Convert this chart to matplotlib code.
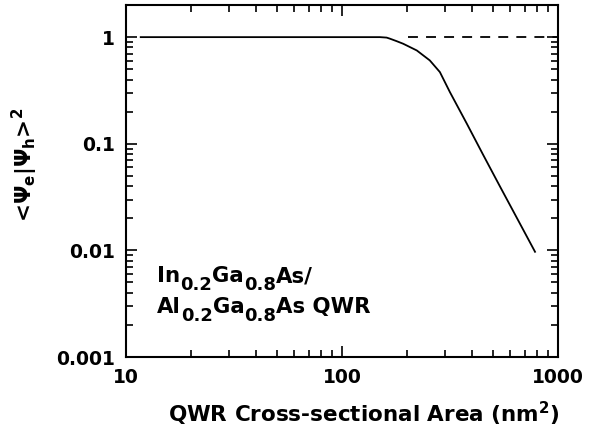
#!/usr/bin/env python

import numpy as np
import matplotlib.pyplot as plt
from matplotlib.transforms import offset_copy
from matplotlib.ticker import LogLocator, NullFormatter, FixedLocator, FixedFormatter

plt.rcParams['font.family'] = ['DejaVu Sans']
plt.rcParams['font.weight'] = 'bold'
plt.rcParams['axes.labelweight'] = 'bold'
plt.rcParams['mathtext.fontset'] = 'custom'
plt.rcParams['mathtext.rm'] = 'DejaVu Sans:bold'
plt.rcParams['mathtext.it'] = 'DejaVu Sans:bold'
plt.rcParams['mathtext.bf'] = 'DejaVu Sans:bold'

# overlap integral vs QWR cross-sectional area
area = [11.7, 50, 100, 150, 161, 167, 179, 192, 222, 255, 284, 316, 378, 450, 538, 650, 783]
overlap = [1.0, 1.0, 1.0, 1.0, 0.99, 0.966, 0.917, 0.867, 0.75, 0.605, 0.47, 0.305, 0.155, 0.079, 0.040, 0.0196, 0.0097]

# dashed reference line at unity
ref_area = [202, 1000]
ref_overlap = [1.0, 1.0]

ytick_vals = [0.001, 0.01, 0.1, 1]
ytick_labels = ['0.001', '0.01', '0.1', '1']
xtick_vals = [10, 100, 1000]
xtick_labels = ['10', '100', '1000']

# label pieces: (text, is_subscript)
line1 = [('In', False), ('0.2', True), ('Ga', False), ('0.8', True), ('As/', False)]
line2 = [('Al', False), ('0.2', True), ('Ga', False), ('0.8', True), ('As QWR', False)]


def write_formula(fig, ax, x, y, pieces, size=15.3, subsize=13, drop=8):
    # place pieces one after the other so subscripts can be bigger than mathtext allows
    renderer = fig.canvas.get_renderer()
    dx = 0.0
    for txt, sub in pieces:
        tr = offset_copy(ax.transAxes, fig=fig, x=dx, y=-drop if sub else 0, units='dots')
        t = ax.text(x, y, txt, transform=tr, fontsize=subsize if sub else size,
                    va='baseline', ha='left', fontweight='bold')
        dx += t.get_window_extent(renderer).width


def main():
    fig = plt.figure(figsize=(5.96, 4.34), dpi=100)
    ax = fig.add_axes([0.2114, 0.1774, 0.7248, 0.811])

    ax.plot(area, overlap, color='black', lw=1.3)
    ax.plot(ref_area, ref_overlap, color='black', lw=1.3, dashes=(5.5, 4.5))

    ax.set_xscale('log')
    ax.set_yscale('log')
    ax.set_xlim(10, 1000)
    ax.set_ylim(0.001, 2)

    ax.xaxis.set_major_locator(FixedLocator(xtick_vals))
    ax.xaxis.set_major_formatter(FixedFormatter(xtick_labels))
    ax.yaxis.set_major_locator(FixedLocator(ytick_vals))
    ax.yaxis.set_major_formatter(FixedFormatter(ytick_labels))
    ax.xaxis.set_minor_locator(LogLocator(base=10, subs=np.arange(2, 10)))
    ax.yaxis.set_minor_locator(LogLocator(base=10, subs=np.arange(2, 10)))
    ax.xaxis.set_minor_formatter(NullFormatter())
    ax.yaxis.set_minor_formatter(NullFormatter())

    ax.tick_params(which='both', direction='in', top=True, right=True, width=1.2)
    ax.tick_params(which='major', length=8, labelsize=13.5, pad=8)
    ax.tick_params(which='minor', length=5)
    for s in ax.spines.values():
        s.set_linewidth(1.5)

    ax.set_xlabel('QWR Cross-sectional Area (nm$^2$)', fontsize=15.5)
    ax.xaxis.set_label_coords(0.551, -0.122)
    ax.set_ylabel(r'<$\Psi_e$|$\Psi_h$>$^2$', fontsize=15.5)
    ax.yaxis.set_label_coords(-0.198, 0.545)

    write_formula(fig, ax, 0.072, 0.213, line1)
    write_formula(fig, ax, 0.072, 0.125, line2)

    plt.savefig('out.png', dpi=100)


if __name__ == "__main__":
    main()
